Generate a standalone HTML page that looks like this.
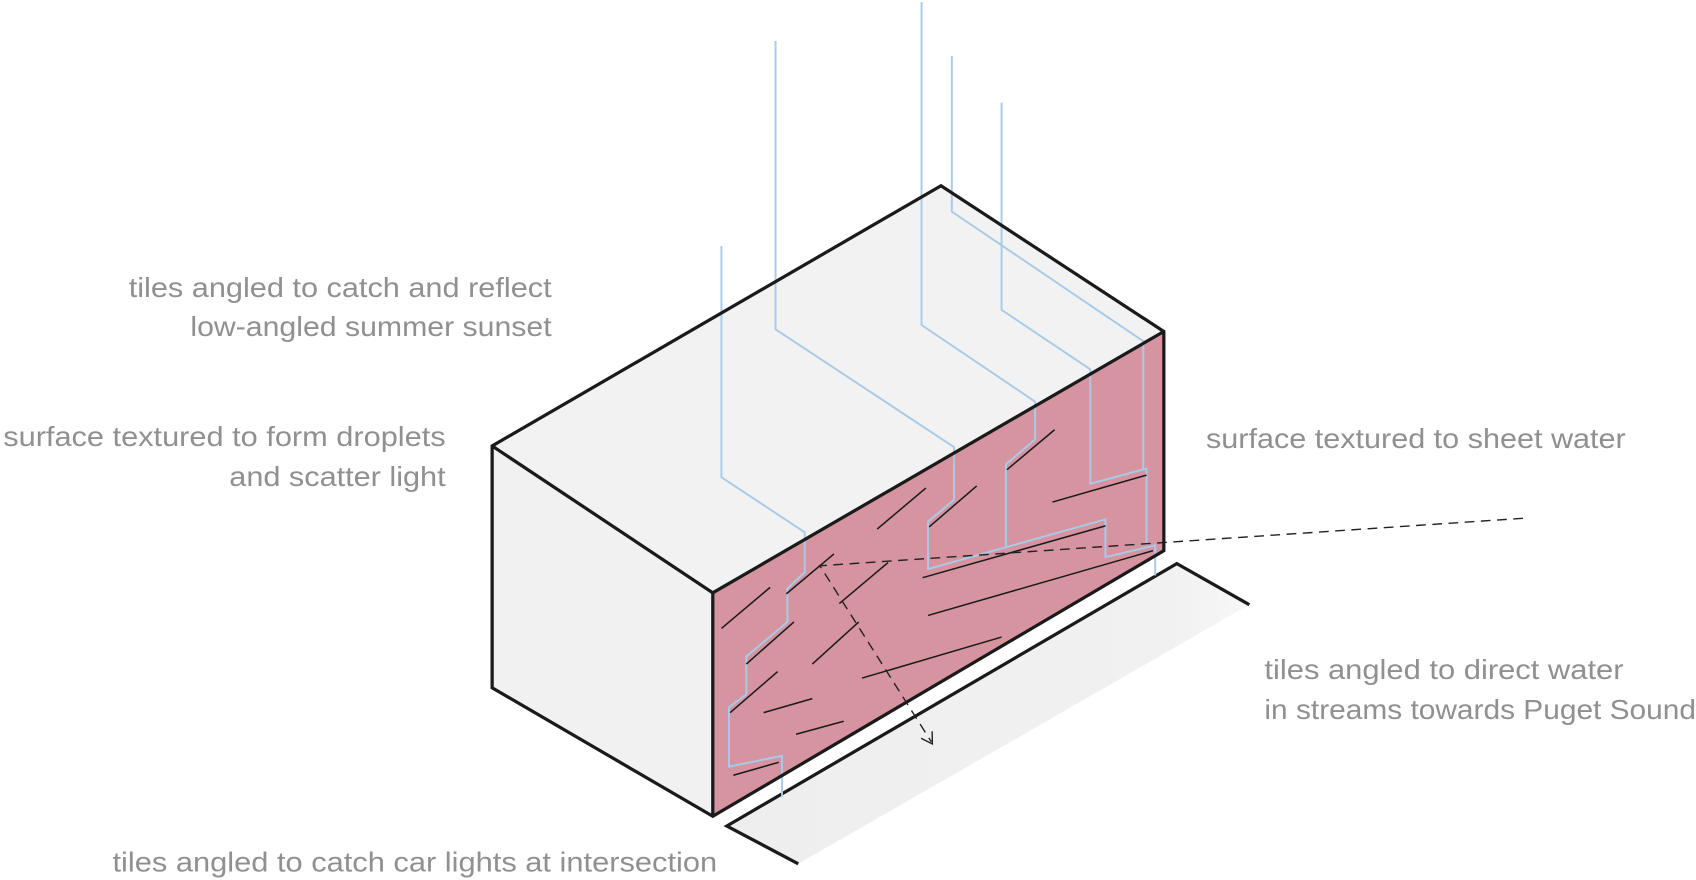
<!DOCTYPE html>
<html><head><meta charset="utf-8"><style>
html,body{margin:0;padding:0;background:#fff;width:1696px;height:880px;overflow:hidden}
svg{display:block}
text{font-family:"Liberation Sans",sans-serif;font-size:26px;fill:#909092}
</style></head><body>
<svg width="1696" height="880" viewBox="0 0 1568 815" preserveAspectRatio="none" xmlns="http://www.w3.org/2000/svg">
<defs>
<linearGradient id="g" x1="0" y1="0" x2="1" y2="0">
<stop offset="0" stop-color="#eeeeee"/><stop offset="0.85" stop-color="#f1f1f1"/><stop offset="1" stop-color="#f7f7f7"/>
</linearGradient>
</defs>
<polygon points="672,765 1088,522 1155,560 738,800" fill="url(#g)"/>
<polyline points="738,800 672,765 1088,522 1155,560" fill="none" stroke="#1a1a1a" stroke-width="3"/>
<polygon points="455,413 870,172 1076,307 659,549" fill="#f2f2f2"/>
<polygon points="455,413 659,549 659,756 455,637" fill="#f1f1f1"/>
<polygon points="659,549 1076,307 1076,510 659,756" fill="#d693a0"/>
<g fill="none" stroke="#a7cbe8" stroke-width="1.8">
<polyline points="667,228 667,442 744,493 744,530 728,545 728,576 690,608 690,643 674,655 674,710 723,700 723,738"/>
<polyline points="717,38 717,305 882,414 882,463 858,483 858,527 1022,481 1022,516 1068,505 1068,533"/>
<polyline points="852,2 852,301 957,372 957,407 930,430 930,507"/>
<polyline points="926,95 926,287 1008,342 1008,448 1060,434 1060,505"/>
<polyline points="880,52 880,196 1057,316 1057,434"/>
</g>
<g stroke="#1a1a1a" stroke-width="1.4">
<line x1="667" y1="582" x2="712" y2="544"/>
<line x1="727" y1="550" x2="771" y2="513"/>
<line x1="690" y1="615" x2="734" y2="576"/>
<line x1="751" y1="615" x2="794" y2="576"/>
<line x1="776" y1="559" x2="821" y2="521"/>
<line x1="811" y1="490" x2="856" y2="452"/>
<line x1="675" y1="660" x2="719" y2="622"/>
<line x1="706" y1="660" x2="751" y2="647"/>
<line x1="736" y1="680" x2="780" y2="668"/>
<line x1="797" y1="628" x2="926" y2="590"/>
<line x1="859" y1="488" x2="903" y2="450"/>
<line x1="931" y1="435" x2="975" y2="398"/>
<line x1="973" y1="465" x2="1060" y2="440"/>
<line x1="853" y1="535" x2="1022" y2="487"/>
<line x1="858" y1="570" x2="1066" y2="510"/>
<line x1="678" y1="718" x2="720" y2="706"/>
</g>
<g fill="none" stroke="#1a1a1a" stroke-width="3" stroke-linejoin="miter">
<polygon points="455,413 870,172 1076,307 1076,510 659,756 455,637"/>
<polyline points="455,413 659,549 1076,307"/>
<line x1="659" y1="549" x2="659" y2="756"/>
</g>
<g fill="none" stroke="#222" stroke-width="1.3" stroke-dasharray="9,6">
<polyline points="1408,480 758,524 861,687"/>
</g>
<polyline points="851.6,683.7 862,689 861.8,677.3" fill="none" stroke="#222" stroke-width="1.3"/>
<text x="510" y="275" text-anchor="end" textLength="391" lengthAdjust="spacingAndGlyphs">tiles angled to catch and reflect</text>
<text x="510" y="311" text-anchor="end" textLength="334" lengthAdjust="spacingAndGlyphs">low-angled summer sunset</text>
<text x="412" y="413" text-anchor="end" textLength="409" lengthAdjust="spacingAndGlyphs">surface textured to form droplets</text>
<text x="412" y="450" text-anchor="end" textLength="200" lengthAdjust="spacingAndGlyphs">and scatter light</text>
<text x="1115" y="415" textLength="388" lengthAdjust="spacingAndGlyphs">surface textured to sheet water</text>
<text x="1169" y="629" textLength="332" lengthAdjust="spacingAndGlyphs">tiles angled to direct water</text>
<text x="1169" y="666" textLength="399" lengthAdjust="spacingAndGlyphs">in streams towards Puget Sound</text>
<text x="104" y="807" textLength="559" lengthAdjust="spacingAndGlyphs">tiles angled to catch car lights at intersection</text>
</svg>
</body></html>
